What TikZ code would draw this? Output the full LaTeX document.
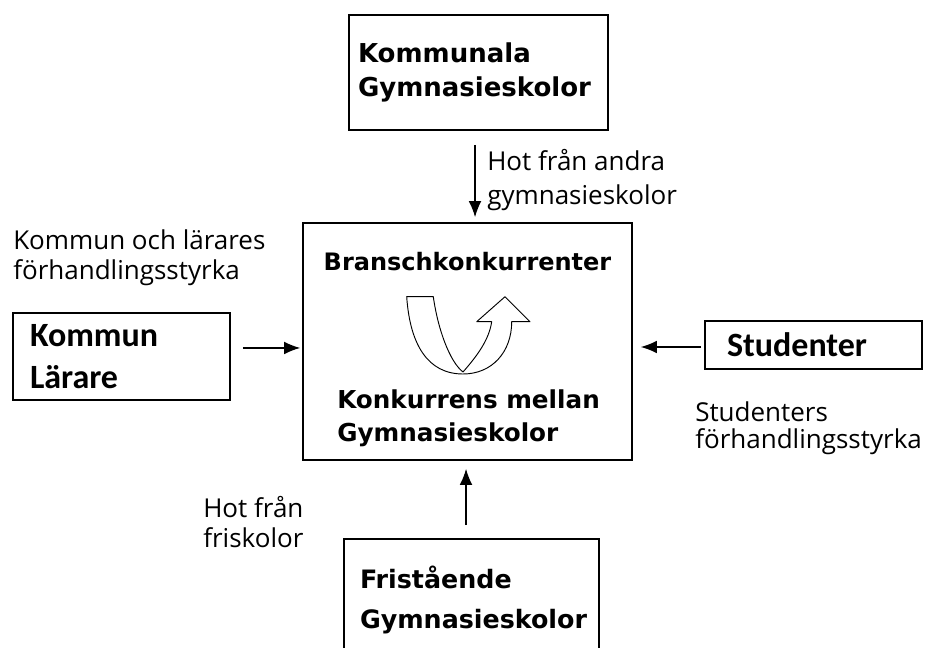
\documentclass[tikz,border=0pt]{standalone}
\usepackage{fontspec}
\setmainfont{Open Sans}
\newfontfamily\boxfont{DejaVu Sans}
\newfontfamily\calfont{Carlito}
\usetikzlibrary{arrows.meta}

\begin{document}
\begin{tikzpicture}[x=0.75pt,y=-0.75pt,>={Latex[length=12pt,width=9.5pt]},
  box/.style={draw,line width=1.2pt,align=left,inner ysep=0pt},
  boxtext/.style 2 args={font=\boxfont\bfseries\fontsize{#1}{#2}\selectfont},
  caltext/.style={font=\calfont\bfseries\fontsize{25.5}{32}\selectfont},
  lbl/.style={align=left,inner sep=0pt,anchor=west,font=\fontsize{19.5}{22.5}\selectfont}]
\useasboundingbox (0,0) rectangle (931,648);
\clip (0,0) rectangle (931,648);

\node[box,boxtext={19.5}{26},minimum width=194.25pt,minimum height=86.25pt,text width=180.75pt,inner xsep=6.75pt] (kommunala) at (478.5,72.5) {Kommunala\\Gymnasieskolor};
\node[box,minimum width=246.75pt,minimum height=177.75pt] (bransch) at (467.5,341.5) {};
\node[boxtext={18}{25}] (branschtext) at (467.5,262) {Branschkonkurrenter};
\node[boxtext={18.5}{25},align=left,anchor=west,inner sep=0pt] (mellan) at (337,418.5) {Konkurrens mellan\\Gymnasieskolor};
\node[box,caltext,minimum width=162.75pt,minimum height=65.25pt,text width=137.25pt,inner xsep=12.75pt] (kommun) at (121.5,356.5) {Kommun\\Lärare};
\node[box,caltext,minimum width=162.75pt,minimum height=36pt,text width=129.75pt,inner xsep=16.5pt] (studenter) at (813.5,345) {Studenter};
\node[box,boxtext={19}{30},minimum width=191.25pt,minimum height=91.5pt,text width=167.25pt,inner xsep=12pt] (fristaende) at (471.5,600) {Fristående\\Gymnasieskolor};

\node[lbl] (hotandra) at (487,180) {Hot från andra\\[3pt]gymnasieskolor};
\node[lbl] (kommunstyrka) at (13,258) {Kommun och lärares\\förhandlingsstyrka};
\node[lbl] (studstyrka) at (695,428.5) {Studenters\\[-2.5pt]förhandlingsstyrka};
\node[lbl] (hotfri) at (203,522) {Hot från\\friskolor};

\draw[line width=0.7pt,line join=round] (406.7,296.7) -- (433.3,296.7) .. controls (438,330) and (450,362) .. (463,372) .. controls (477,356) and (489,340) .. (491.7,321.7) -- (476.7,321.7) -- (505,296.7) -- (530,321.7) -- (511.7,321.7) .. controls (511.7,352) and (492,374) .. (463,374) .. controls (428,374) and (410,345) .. (406.7,296.7) -- cycle;

\draw[->,line width=1pt,shorten <=10.5pt,shorten >=3.75pt] ([xshift=-2.6pt]kommunala.south) -- ([xshift=-2.6pt]kommunala.south |- bransch.north);
\draw[->,line width=1pt,shorten <=9.75pt,shorten >=6pt] ([xshift=-4.1pt]fristaende.north) -- ([xshift=-4.1pt]fristaende.north |- bransch.south);
\draw[->,line width=1pt,shorten <=9pt,shorten >=1.5pt] ([yshift=6.4pt]kommun.east) -- ([yshift=6.4pt]kommun.east -| bransch.west);
\draw[->,line width=1pt,shorten <=2.25pt,shorten >=6pt] ([yshift=-1.5pt]studenter.west) -- ([yshift=-1.5pt]studenter.west -| bransch.east);
\end{tikzpicture}
\end{document}
